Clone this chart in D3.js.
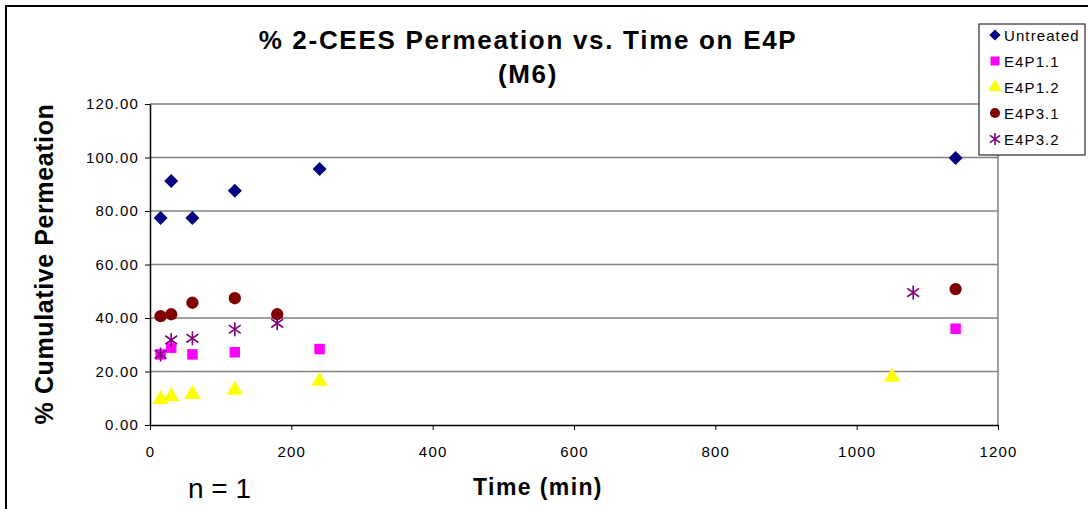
<!DOCTYPE html>
<html>
<head>
<meta charset="utf-8">
<script src="https://cdn.jsdelivr.net/npm/d3@7"></script>
<style>
  body { margin: 0; background: #fff; }
  svg { display: block; font-family: "Liberation Sans", Arial, sans-serif; }
</style>
</head>
<body>
<div id="chart"></div>
<script>
// data
const seriesNames = ["Untreated", "E4P1.1", "E4P1.2", "E4P3.1", "E4P3.2"];
const untreated = [[15, 77.4], [30, 91.2], [60, 77.4], [120, 87.6], [240, 95.7], [1140, 99.8]];
const e4p11 = [[15, 26.4], [30, 28.9], [60, 26.4], [120, 27.2], [240, 28.4], [1140, 36.0]];
const e4p12 = [[15, 9.6], [30, 10.6], [60, 11.5], [120, 13.1], [240, 16.4], [1050, 17.9]];
const e4p31 = [[15, 40.7], [30, 41.4], [60, 45.7], [120, 47.4], [180, 41.4], [1140, 50.8]];
const e4p32 = [[15, 26.4], [30, 31.8], [60, 32.4], [120, 35.8], [180, 38.0], [1080, 49.5]];
const xTicks = [0, 200, 400, 600, 800, 1000, 1200];
const yTicks = [0, 20, 40, 60, 80, 100, 120];

const allSeries = [untreated, e4p11, e4p12, e4p31, e4p32];
const colors = ["#000080", "#ff00ff", "#ffff00", "#800000", "#800080"];
const shapes = ["diamond", "square", "triangle", "circle", "star"];

const W = 1088, H = 509;
const plot = { left: 150, right: 998, top: 104, bottom: 425 };

const svg = d3.select("#chart").append("svg")
    .attr("width", W)
    .attr("height", H);

// outer chart border (top and left visible)
svg.append("path")
    .attr("d", `M6,${H} L6,6 L${W},6`)
    .attr("fill", "none")
    .attr("stroke", "#000")
    .attr("stroke-width", 2);

const x = d3.scaleLinear().domain([0, 1200]).range([plot.left, plot.right]);
const y = d3.scaleLinear().domain([0, 120]).range([plot.bottom, plot.top]);

// gridlines
svg.append("g")
  .selectAll("line")
  .data(yTicks.filter(d => d > 0))
  .join("line")
    .attr("x1", plot.left)
    .attr("x2", plot.right)
    .attr("y1", d => y(d))
    .attr("y2", d => y(d))
    .attr("stroke", "#808080")
    .attr("stroke-width", 1.5);

// right edge of plot area
svg.append("line")
    .attr("x1", plot.right).attr("x2", plot.right)
    .attr("y1", plot.top).attr("y2", plot.bottom)
    .attr("stroke", "#808080")
    .attr("stroke-width", 1.5);

// Y axis
const yAxis = svg.append("g")
    .attr("transform", `translate(${plot.left},0)`)
    .call(d3.axisLeft(y).tickValues(yTicks).tickFormat(d3.format(".2f")).tickSize(5).tickSizeOuter(0));
yAxis.select(".domain").attr("stroke", "#000").attr("stroke-width", 1.5);
yAxis.selectAll(".tick line").attr("stroke", "#000");
yAxis.selectAll("text")
    .attr("font-size", 15)
    .attr("letter-spacing", 1.2)
    .attr("font-family", "Liberation Sans, Arial, sans-serif")
    .attr("fill", "#000")
    .attr("x", -11);

// X axis
const xAxis = svg.append("g")
    .attr("transform", `translate(0,${plot.bottom})`)
    .call(d3.axisBottom(x).tickValues(xTicks).tickFormat(d3.format("d")).tickSize(5).tickSizeOuter(0));
xAxis.select(".domain").attr("stroke", "#000").attr("stroke-width", 1.5);
xAxis.selectAll(".tick line").attr("stroke", "#000");
xAxis.selectAll("text")
    .attr("font-size", 15)
    .attr("letter-spacing", 1.2)
    .attr("font-family", "Liberation Sans, Arial, sans-serif")
    .attr("fill", "#000")
    .attr("y", 21);

// markers
function marker(shape) {
  if (shape === "diamond") return d3.symbol(d3.symbolDiamond2, 125)();
  if (shape === "square") return d3.symbol(d3.symbolSquare, 110)();
  if (shape === "triangle") return d3.symbol(d3.symbolTriangle, 115)();
  if (shape === "circle") return d3.symbol(d3.symbolCircle, 120)();
  return null;
}
function star(g, color, r) {
  // asterisk: vertical + two diagonals
  const a = r * 0.85;
  g.append("path")
    .attr("d", `M0,${-r}L0,${r}M${-a},${-a * 0.7}L${a},${a * 0.7}M${-a},${a * 0.7}L${a},${-a * 0.7}`)
    .attr("stroke", color)
    .attr("stroke-width", 1.6)
    .attr("fill", "none");
}

allSeries.forEach((data, i) => {
  const g = svg.append("g");
  const pts = g.selectAll("g")
    .data(data)
    .join("g")
      .attr("transform", d => `translate(${x(d[0])},${y(d[1])})`);
  if (shapes[i] === "star") {
    pts.each(function() { star(d3.select(this), colors[i], 7); });
  } else {
    pts.append("path")
      .attr("d", marker(shapes[i]))
      .attr("fill", colors[i]);
  }
});

// title
svg.append("text")
    .attr("x", 528).attr("y", 49)
    .attr("text-anchor", "middle")
    .attr("font-size", 26).attr("font-weight", "bold")
    .attr("letter-spacing", 1.7)
    .text("% 2-CEES Permeation vs. Time on E4P");
svg.append("text")
    .attr("x", 528).attr("y", 83)
    .attr("text-anchor", "middle")
    .attr("font-size", 26).attr("font-weight", "bold")
    .attr("letter-spacing", 1.7)
    .text("(M6)");

// axis titles
svg.append("text")
    .attr("transform", `translate(53,264) rotate(-90)`)
    .attr("text-anchor", "middle")
    .attr("font-size", 25).attr("font-weight", "bold")
    .attr("letter-spacing", 0.6)
    .text("% Cumulative Permeation");
svg.append("text")
    .attr("x", 538).attr("y", 495)
    .attr("text-anchor", "middle")
    .attr("font-size", 23).attr("font-weight", "bold")
    .attr("letter-spacing", 1.4)
    .text("Time (min)");
svg.append("text")
    .attr("x", 188).attr("y", 498)
    .attr("font-size", 28)
    .text("n = 1");

// legend
const legend = svg.append("g").attr("transform", "translate(979,24)");
legend.append("rect")
    .attr("width", 106).attr("height", 131)
    .attr("fill", "#fff")
    .attr("stroke", "#000")
    .attr("stroke-width", 1);
const rows = legend.selectAll(".row")
  .data(seriesNames)
  .join("g")
    .attr("class", "row")
    .attr("transform", (d, i) => `translate(16,${11 + i * 26})`);
rows.each(function(d, i) {
  const r = d3.select(this);
  if (shapes[i] === "star") {
    star(r, colors[i], 6);
  } else {
    r.append("path")
      .attr("d", d3.symbol(
        shapes[i] === "diamond" ? d3.symbolDiamond2 :
        shapes[i] === "square" ? d3.symbolSquare :
        shapes[i] === "triangle" ? d3.symbolTriangle : d3.symbolCircle, 80)())
      .attr("fill", colors[i]);
  }
  r.append("text")
    .attr("x", 9).attr("y", 5.5)
    .attr("font-size", 15)
    .attr("letter-spacing", 1.1)
    .text(d);
});
</script>
</body>
</html>
